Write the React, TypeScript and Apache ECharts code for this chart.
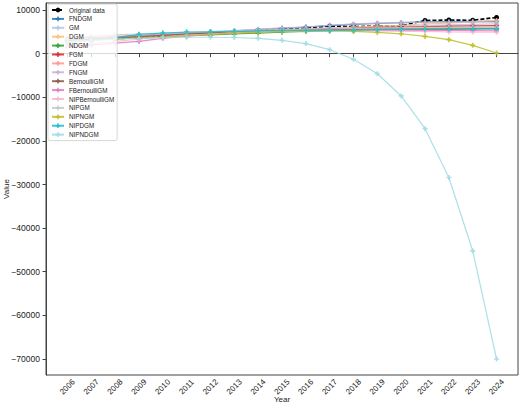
import { useEffect, useRef } from "react";
import * as echarts from "echarts";

const years = [2006, 2007, 2008, 2009, 2010, 2011, 2012, 2013, 2014, 2015, 2016, 2017, 2018, 2019, 2020, 2021, 2022, 2023, 2024];
const yTicks = [10000, 0, -10000, -20000, -30000, -40000, -50000, -60000, -70000];

const original = [2900, 3200, 3400, 3700, 4000, 4300, 4700, 5000, 5300, 5600, 5900, 6300, 6200, 6300, 6400, 7600, 7700, 7650, 8300];

const modelNames = ["FNDGM", "GM", "DGM", "NDGM", "FGM", "FDGM", "FNGM", "BernoulliGM", "FBernoulliGM", "NIPBernoulliGM", "NIPGM", "NIPNGM", "NIPDGM", "NIPNDGM"];
const modelColors = ["#1f77b4", "#aec7e8", "#ffbb78", "#2ca02c", "#d62728", "#ff9896", "#c5b0d5", "#8c564b", "#e377c2", "#f7b6d2", "#c7c7c7", "#bcbd22", "#17becf", "#9edae5"];

const fndgm = [2700, 3200, 3600, 4000, 4300, 4600, 4900, 5200, 5500, 5800, 6100, 6400, 6700, 6900, 7100, 7300, 7350, 7400, 7400];
const gm = [3000, 3400, 3800, 4100, 4400, 4700, 4900, 5100, 5300, 5500, 5700, 5900, 6100, 6200, 6400, 6500, 6600, 6700, 6800];
const dgm = [3300, 3500, 3700, 3900, 4100, 4300, 4500, 4800, 5000, 5200, 5500, 5700, 6000, 6300, 6500, 6800, 7000, 7300, 7600];
const ndgm = [3100, 3300, 3400, 3600, 3800, 4100, 4300, 4500, 4700, 4900, 5100, 5200, 5300, 5400, 5500, 5550, 5600, 5650, 5700];
const fgm = [3500, 3700, 3900, 4100, 4300, 4500, 4700, 4900, 5100, 5300, 5500, 5700, 5800, 6000, 6100, 6200, 6300, 6350, 6400];
const fdgm = [3200, 3500, 3800, 4000, 4200, 4400, 4600, 4800, 5000, 5200, 5400, 5500, 5600, 5700, 5800, 5900, 5950, 6000, 6050];
const fngm = [3000, 3400, 3800, 4100, 4400, 4700, 5000, 5300, 5600, 5900, 6100, 6500, 6800, 7000, 7100, 7200, 7200, 7200, 7200];
const bernoulliGM = [3000, 3300, 3600, 3900, 4200, 4500, 4700, 4900, 5100, 5300, 5400, 5500, 5550, 5600, 5600, 5650, 5650, 5700, 5700];
const fBernoulliGM = [1500, 2000, 2400, 2800, 3500, 4000, 4400, 4800, 5000, 5200, 5300, 5400, 5400, 5400, 5400, 5350, 5300, 5250, 5200];
const nipBernoulliGM = [1700, 2300, 2800, 3300, 3800, 4200, 4500, 4800, 5000, 5100, 5200, 5200, 5200, 5200, 5100, 5100, 5000, 4950, 4900];
const nipgm = [3400, 4000, 4300, 4500, 4700, 4900, 5100, 5200, 5400, 5500, 5600, 5700, 5800, 5900, 5900, 6000, 6000, 6000, 6000];
const nipngm = [2800, 3100, 3400, 3600, 3800, 4100, 4400, 4700, 4900, 5100, 5250, 5300, 5100, 4850, 4550, 3950, 3200, 1900, 150];
const nipdgm = [2500, 3100, 3600, 4400, 4700, 4950, 5000, 5100, 5250, 5300, 5350, 5350, 5400, 5500, 5600, 5650, 5650, 5700, 5700];
const nipndgm = [2700, 3000, 3300, 3500, 3650, 3750, 3750, 3700, 3500, 3050, 2300, 900, -1300, -4600, -9700, -17200, -28400, -45200, -70000];

const modelValues = [fndgm, gm, dgm, ndgm, fgm, fdgm, fngm, bernoulliGM, fBernoulliGM, nipBernoulliGM, nipgm, nipngm, nipdgm, nipndgm];

const plus = "path://M-1,-3H1V-1H3V1H1V3H-1V1H-3V-1H-1Z";
const font = "Liberation Sans";

export default function App() {
  const ref = useRef<HTMLDivElement>(null);
  useEffect(() => {
    if (!ref.current) return;
    const chart = echarts.init(ref.current, null, { renderer: "svg" });
    const pairs = (vals: number[]) => years.map((y, i) => [y, vals[i]]);
    const series: any[] = [
      {
        name: "Original data",
        type: "line",
        data: pairs(original),
        symbol: "circle",
        symbolSize: 5,
        itemStyle: { color: "#000" },
        lineStyle: { color: "#000", width: 1.6, type: [4, 2] },
      },
      ...modelNames.map((name, k) => ({
        name,
        type: "line",
        data: pairs(modelValues[k]),
        symbol: plus,
        symbolSize: 5,
        itemStyle: { color: modelColors[k], opacity: 0.85 },
        lineStyle: { color: modelColors[k], width: 1.2, opacity: 0.85 },
      })),
    ];
    chart.setOption({
      animation: false,
      textStyle: { fontFamily: font },
      grid: {
        left: 46, right: 2, top: 3, bottom: 35,
        outerBoundsMode: "none",
        containLabel: false,
        show: true, borderColor: "#444", borderWidth: 1,
      },
      legend: {
        orient: "vertical",
        left: 48,
        top: 4,
        itemWidth: 12,
        itemHeight: 6,
        itemGap: 2.9,
        padding: [3, 3, 3, 3],
        backgroundColor: "rgba(255,255,255,0.8)",
        borderColor: "#ccc",
        borderWidth: 0.8,
        borderRadius: 2,
        textStyle: { fontSize: 6.3, color: "#222", fontFamily: font, lineHeight: 6 },
        data: ["Original data", ...modelNames],
      },
      xAxis: {
        type: "value",
        min: 2005.1,
        max: 2024.9,
        name: "Year",
        nameLocation: "middle",
        nameGap: 20,
        nameMoveOverlap: false,
        nameTextStyle: { fontSize: 8, color: "#222" },
        axisLine: { lineStyle: { color: "#444", width: 1 } },
        axisTick: { length: 3.5, lineStyle: { color: "#444" }, customValues: years },
        axisLabel: {
          customValues: years,
          rotate: 45,
          align: "center",
          verticalAlign: "middle",
          margin: 12,
          fontSize: 8,
          color: "#222",
          formatter: (v: number) => String(v),
        },
        splitLine: { show: false },
      },
      yAxis: {
        type: "value",
        min: -73668,
        max: 11605,
        name: "Value",
        nameLocation: "middle",
        nameGap: 36,
        nameMoveOverlap: false,
        nameTextStyle: { fontSize: 8, color: "#222" },
        axisLine: { show: true, lineStyle: { color: "#444", width: 1 } },
        axisTick: { show: true, length: 3.5, lineStyle: { color: "#444" }, customValues: yTicks },
        axisLabel: {
          customValues: yTicks,
          margin: 6,
          fontSize: 8.5,
          color: "#222",
          formatter: (v: number) => (v < 0 ? "\u2212" + Math.abs(v) : String(v)),
        },
        splitLine: { show: false },
      },
      series,
    });
    return () => chart.dispose();
  }, []);
  return <div ref={ref} style={{ position: "absolute", left: 0, top: 0, width: 520, height: 410 }} />;
}
